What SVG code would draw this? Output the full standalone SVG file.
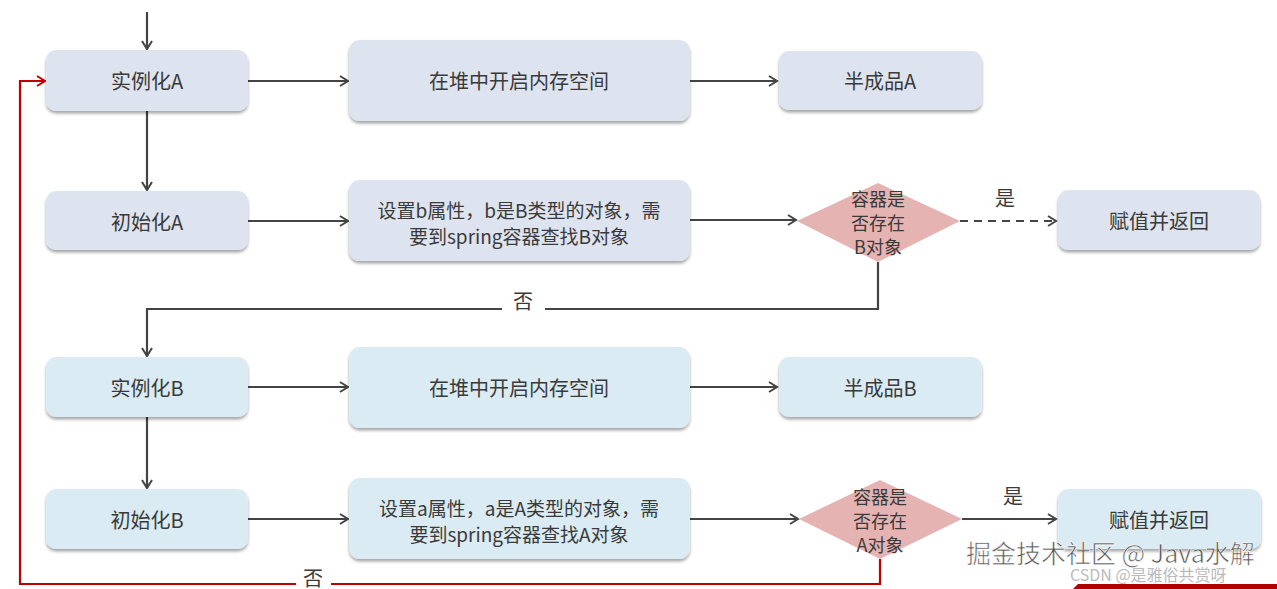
<svg xmlns="http://www.w3.org/2000/svg" width="1277" height="589" viewBox="0 0 1277 589">
<style>
.a{fill:#dee4ef}
.b{fill:#dbebf3}
.box{filter:url(#sh)}
.t{font-family:"Noto Sans CJK SC","Liberation Sans",sans-serif;font-size:20px;fill:#3a3a3a;text-anchor:middle;dominant-baseline:central}
.s{font-size:18px}
.m{font-size:19px}
.d{fill:#e6b3b3}
.ln{fill:none;stroke:#444;stroke-width:2.2}
.red{fill:none;stroke:#c00000;stroke-width:2.2}
.wm{font-family:"Noto Sans CJK SC","Liberation Sans",sans-serif}
</style>
<defs>
<filter id="sh" x="-10%" y="-20%" width="120%" height="150%">
<feDropShadow dx="0" dy="2.5" stdDeviation="1.5" flood-color="#000" flood-opacity="0.35"/>
</filter>
<marker id="ar" markerWidth="12" markerHeight="12" refX="10" refY="6" orient="auto" markerUnits="userSpaceOnUse">
<polyline points="2,1 10,6 2,11" fill="none" stroke="#444" stroke-width="2"/>
</marker>
<marker id="arr" markerWidth="12" markerHeight="12" refX="10" refY="6" orient="auto" markerUnits="userSpaceOnUse">
<polyline points="2,1 10,6 2,11" fill="none" stroke="#c00000" stroke-width="2"/>
</marker>
</defs>
<rect width="1277" height="589" fill="#fff"/>

<g id="connectors">
<line class="ln" x1="147" y1="12" x2="147" y2="49" marker-end="url(#ar)"/>
<line class="ln" x1="248" y1="81" x2="348" y2="81" marker-end="url(#ar)"/>
<line class="ln" x1="690" y1="81" x2="777" y2="81" marker-end="url(#ar)"/>
<line class="ln" x1="147" y1="111" x2="147" y2="190" marker-end="url(#ar)"/>
<line class="ln" x1="248" y1="221" x2="348" y2="221" marker-end="url(#ar)"/>
<line class="ln" x1="690" y1="220" x2="796" y2="220" marker-end="url(#ar)"/>
<line class="ln" x1="960" y1="221" x2="1056" y2="221" stroke-dasharray="8,6" marker-end="url(#ar)"/>
<polyline class="ln" points="878,262 878,309 545,309"/>
<polyline class="ln" points="502,309 147,309 147,356" marker-end="url(#ar)"/>
<line class="ln" x1="248" y1="387" x2="348" y2="387" marker-end="url(#ar)"/>
<line class="ln" x1="690" y1="387" x2="777" y2="387" marker-end="url(#ar)"/>
<line class="ln" x1="147" y1="417" x2="147" y2="488" marker-end="url(#ar)"/>
<line class="ln" x1="248" y1="519" x2="348" y2="519" marker-end="url(#ar)"/>
<line class="ln" x1="690" y1="519" x2="798" y2="519" marker-end="url(#ar)"/>
<line class="ln" x1="962" y1="519" x2="1056" y2="519" marker-end="url(#ar)"/>
<polyline class="red" points="880,559 880,584 331,584"/>
<polyline class="red" points="296,584 20,584 20,81 45,81" marker-end="url(#arr)"/>
<text class="t" x="1005" y="197">是</text>
<text class="t" x="523" y="300">否</text>
<text class="t" x="1013" y="495">是</text>
<text class="t" x="313" y="577">否</text>
</g>

<g id="instA"><rect class="a box" x="46" y="50" width="202" height="61" rx="10"/><text class="t" x="147" y="80">实例化A</text></g>
<g id="heapA"><rect class="a box" x="349" y="40" width="341" height="81" rx="11"/><text class="t" x="519" y="80">在堆中开启内存空间</text></g>
<g id="halfA"><rect class="a box" x="779" y="51" width="203" height="59" rx="10"/><text class="t" x="880" y="80">半成品A</text></g>
<g id="initA"><rect class="a box" x="46" y="191" width="202" height="59" rx="10"/><text class="t" x="147" y="221">初始化A</text></g>
<g id="setB"><rect class="a box" x="349" y="180" width="341" height="81" rx="11"/><text class="t m" x="519" y="209">设置b属性，b是B类型的对象，需</text><text class="t m" x="519" y="235">要到spring容器查找B对象</text></g>
<g id="decB"><polygon class="d" points="878,183 960,221 878,262 797,221"/><text class="t s" x="878" y="198">容器是</text><text class="t s" x="878" y="222">否存在</text><text class="t s" x="878" y="246">B对象</text></g>
<g id="retA"><rect class="a box" x="1058" y="190" width="202" height="60" rx="10"/><text class="t" x="1159" y="220">赋值并返回</text></g>

<g id="instB"><rect class="b box" x="46" y="357" width="202" height="60" rx="10"/><text class="t" x="147" y="387">实例化B</text></g>
<g id="heapB"><rect class="b box" x="349" y="347" width="341" height="81" rx="11"/><text class="t" x="519" y="387">在堆中开启内存空间</text></g>
<g id="halfB"><rect class="b box" x="779" y="357" width="203" height="60" rx="10"/><text class="t" x="880" y="387">半成品B</text></g>
<g id="initB"><rect class="b box" x="46" y="489" width="202" height="60" rx="10"/><text class="t" x="147" y="519">初始化B</text></g>
<g id="setA"><rect class="b box" x="349" y="478" width="341" height="81" rx="11"/><text class="t m" x="519" y="507">设置a属性，a是A类型的对象，需</text><text class="t m" x="519" y="533">要到spring容器查找A对象</text></g>
<g id="decA"><polygon class="d" points="880,480 962,519 880,559 799,519"/><text class="t s" x="880" y="496">容器是</text><text class="t s" x="880" y="520">否存在</text><text class="t s" x="880" y="544">A对象</text></g>
<g id="retB"><rect class="b box" x="1058" y="489" width="203" height="60" rx="10"/><text class="t" x="1159" y="519">赋值并返回</text></g>

<polygon points="1078,584 1277,584 1277,589 1073,589" fill="#b00000"/>
<g id="watermark">
<text class="wm" x="966" y="563" font-size="25" fill="#555" stroke="#fff" stroke-width="0.6">掘金技术社区 @ Java水解</text>
<text class="wm" x="1070" y="581" font-size="16" fill="#bbb">CSDN @是雅俗共赏呀</text>
</g>
</svg>
